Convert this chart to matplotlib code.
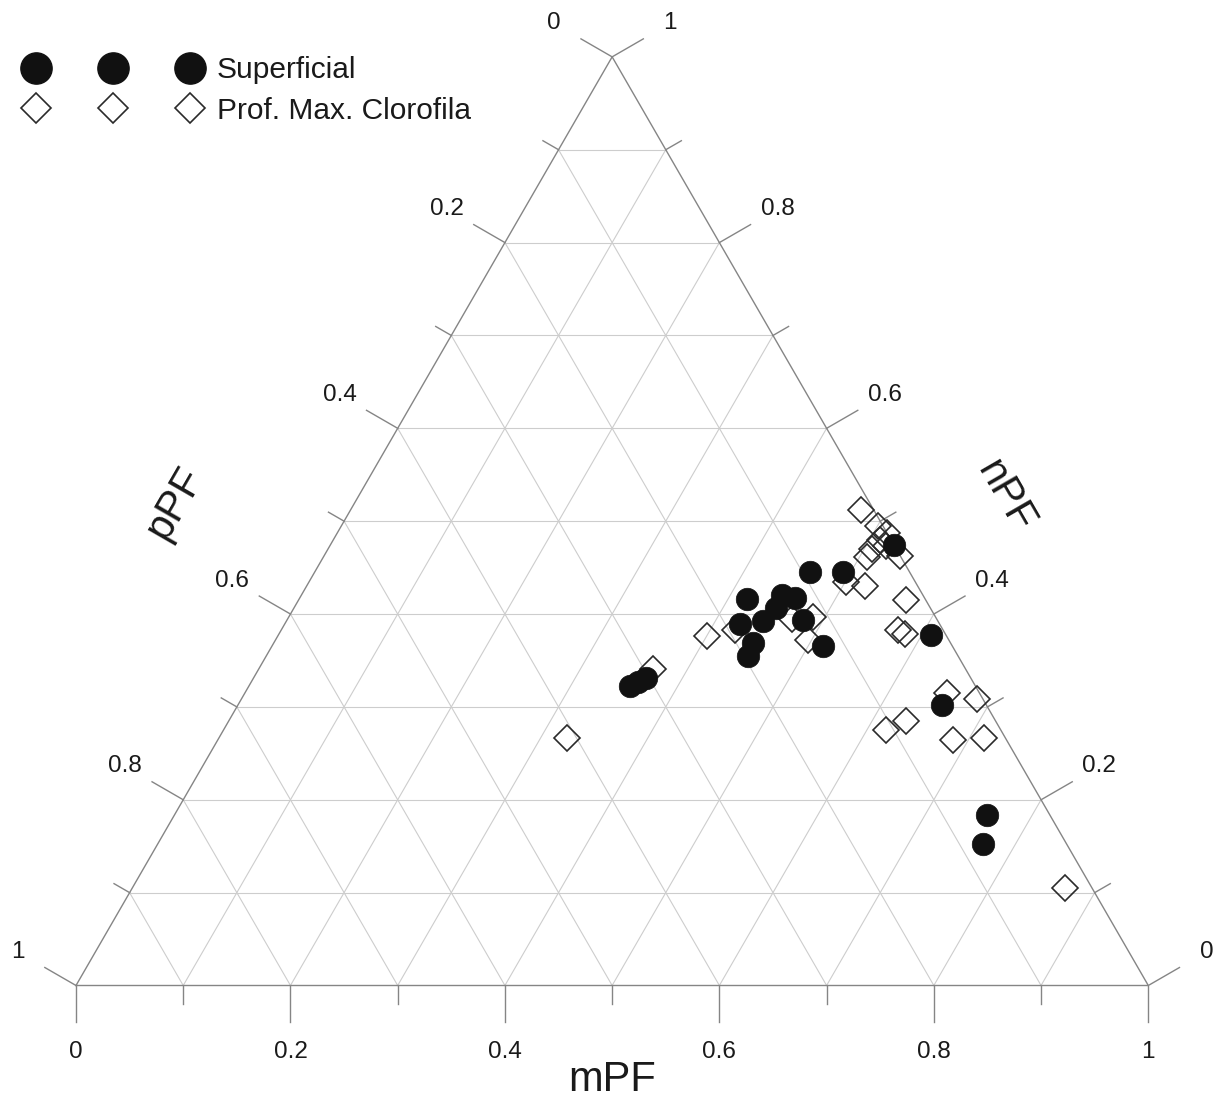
import numpy as np
import matplotlib
matplotlib.use("Agg")
import matplotlib.pyplot as plt
from matplotlib.lines import Line2D

plt.rcParams['font.family'] = ['Liberation Sans', 'DejaVu Sans']

# Phytoplankton size fractions (mPF, nPF, pPF) per sample
sup_m = [0.462, 0.493, 0.526, 0.418, 0.448, 0.462, 0.450, 0.425, 0.445, 0.481,
         0.447, 0.449, 0.514, 0.609, 0.657, 0.758, 0.770, 0.355, 0.361, 0.366]
sup_n = [0.445, 0.445, 0.474, 0.416, 0.421, 0.417, 0.406, 0.389, 0.392, 0.394,
         0.369, 0.355, 0.366, 0.377, 0.302, 0.184, 0.152, 0.323, 0.327, 0.331]
sup_p = [0.093, 0.062, 0.000, 0.166, 0.131, 0.121, 0.144, 0.186, 0.163, 0.125,
         0.184, 0.196, 0.120, 0.014, 0.041, 0.058, 0.078, 0.322, 0.312, 0.303]

dcm_m = [0.476, 0.500, 0.513, 0.510, 0.507, 0.507, 0.537, 0.519, 0.501, 0.521,
         0.567, 0.575, 0.584, 0.400, 0.423, 0.470, 0.489, 0.497, 0.368, 0.324,
         0.655, 0.686, 0.618, 0.632, 0.686, 0.714, 0.870]
dcm_n = [0.512, 0.495, 0.487, 0.480, 0.470, 0.461, 0.463, 0.473, 0.435, 0.430,
         0.415, 0.383, 0.378, 0.376, 0.383, 0.395, 0.397, 0.372, 0.341, 0.267,
         0.315, 0.308, 0.275, 0.285, 0.264, 0.266, 0.105]
dcm_p = [0.012, 0.005, 0.000, 0.010, 0.023, 0.032, 0.000, 0.008, 0.064, 0.049,
         0.018, 0.042, 0.038, 0.224, 0.194, 0.135, 0.114, 0.131, 0.291, 0.409,
         0.030, 0.006, 0.107, 0.083, 0.050, 0.020, 0.025]

series_labels = ["Superficial", "Prof. Max. Clorofila"]
axis_titles = ["mPF", "pPF", "nPF"]
major_ticks = [0.0, 0.2, 0.4, 0.6, 0.8, 1.0]
major_labels = ["0", "0.2", "0.4", "0.6", "0.8", "1"]
minor_ticks = [0.1, 0.3, 0.5, 0.7, 0.9]

S3 = np.sqrt(3) / 2


def to_xy(m, n, p):
    m, n, p = (np.asarray(v, float) for v in (m, n, p))
    tot = m + n + p
    m, n = m / tot, n / tot
    return m + 0.5 * n, S3 * n


W, H = 1218, 1108
fig = plt.figure(figsize=(W / 100, H / 100), dpi=100)
ax = fig.add_axes([0, 0, 1, 1])
scale = 1072.3
x0, y0 = 76.0, 985.5
ax.set_xlim(-x0 / scale, (W - x0) / scale)
ax.set_ylim(-(H - y0) / scale, y0 / scale)
ax.axis("off")

grid_c = "#cdcdcd"
edge_c = "#858585"
txt_c = "#1a1a1a"

# grid lines
for k in np.arange(1, 10) / 10:
    # constant mPF
    xs, ys = to_xy([k, k], [0, 1 - k], [1 - k, 0])
    ax.plot(xs, ys, color=grid_c, lw=0.8, zorder=1)
    # constant nPF
    xs, ys = to_xy([0, 1 - k], [k, k], [1 - k, 0])
    ax.plot(xs, ys, color=grid_c, lw=0.8, zorder=1)
    # constant pPF
    xs, ys = to_xy([0, 1 - k], [1 - k, 0], [k, k])
    ax.plot(xs, ys, color=grid_c, lw=0.8, zorder=1)

# triangle outline
xs, ys = to_xy([0, 1, 0, 0], [0, 0, 1, 0], [1, 0, 0, 1])
ax.plot(xs, ys, color=edge_c, lw=1.0, zorder=2)

major_len = 36 / scale
minor_len = 18 / scale
lab_off = 67 / scale
tick_fs = 17.5

dirs = {
    "m": np.array([0.0, -1.0]),
    "p": np.array([-np.cos(np.pi / 6), 0.5]),
    "n": np.array([np.cos(np.pi / 6), 0.5]),
}


def edge_point(axis, v):
    if axis == "m":
        return to_xy(v, 0, 1 - v)
    if axis == "p":
        return to_xy(0, 1 - v, v)
    return to_xy(1 - v, v, 0)


for axis in ("m", "p", "n"):
    d = dirs[axis]
    for v, lab in zip(major_ticks, major_labels):
        x, y = edge_point(axis, v)
        ax.plot([x, x + d[0] * major_len], [y, y + d[1] * major_len],
                color=edge_c, lw=1.0, zorder=2)
        ax.text(x + d[0] * lab_off, y + d[1] * lab_off, lab, fontsize=tick_fs,
                color=txt_c, ha="center", va="center")
    for v in minor_ticks:
        x, y = edge_point(axis, v)
        ax.plot([x, x + d[0] * minor_len], [y, y + d[1] * minor_len],
                color=edge_c, lw=1.0, zorder=2)

title_fs = 30
ax.text(0.4999, -0.0885, axis_titles[0], fontsize=title_fs, color=txt_c,
        ha="center", va="center")
ax.text(0.0923, 0.4500, axis_titles[1], fontsize=title_fs, color=txt_c,
        ha="center", va="center", rotation=60)
ax.text(0.8664, 0.4556, axis_titles[2], fontsize=title_fs, color=txt_c,
        ha="center", va="center", rotation=-60)

# data
dx, dy = to_xy(dcm_m, dcm_n, dcm_p)
ax.plot(dx, dy, ls="none", marker="D", ms=13.6, mfc="none", mec="#2a2a2a",
        mew=1.2, zorder=4)
sx, sy = to_xy(sup_m, sup_n, sup_p)
ax.plot(sx, sy, ls="none", marker="o", ms=16.2, mfc="#111111", mec="#111111",
        mew=0.5, zorder=5)

handles = [
    Line2D([], [], ls="none", marker="o", ms=22.5, mfc="#111111", mec="#111111"),
    Line2D([], [], ls="none", marker="D", ms=15.5, mfc="none", mec="#2a2a2a",
           mew=1.2),
]
fig.legend(handles, series_labels, loc="upper left",
           bbox_to_anchor=(27.2 / W, 1 - 56 / H), bbox_transform=fig.transFigure,
           numpoints=3, handlelength=5.745, handletextpad=0.61, frameon=False,
           borderpad=0, borderaxespad=0, labelspacing=0.42, fontsize=21.5,
           labelcolor=txt_c)

fig.savefig("out.png", dpi=100)
